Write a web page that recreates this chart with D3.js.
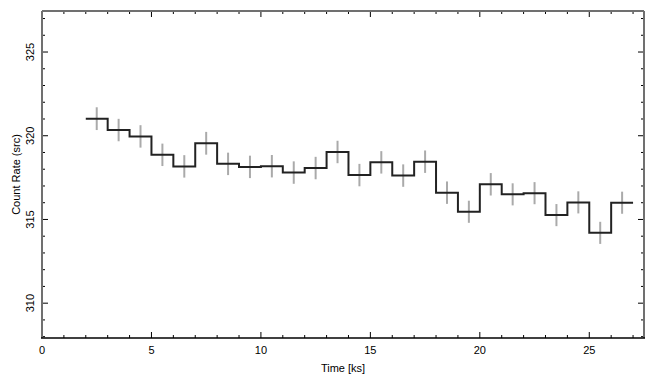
<!DOCTYPE html>
<html><head><meta charset="utf-8">
<script src="https://cdn.jsdelivr.net/npm/d3@7"></script>
<style>body{margin:0;background:#fff}svg{display:block}text{font-family:"Liberation Sans",Arial,sans-serif;}</style>
</head><body>
<svg id="c" width="655" height="385"></svg>
<script>
const binStart = [2,3,4,5,6,7,8,9,10,11,12,13,14,15,16,17,18,19,20,21,22,23,24,25,26];
const binWidth = 1;
const rate = [321.02,320.34,319.96,318.86,318.17,319.55,318.32,318.14,318.18,317.8,318.07,319.03,317.65,318.41,317.62,318.45,316.6,315.46,317.1,316.5,316.57,315.26,316.02,314.2,316.0];
const rateErr = [0.68,0.67,0.67,0.67,0.67,0.68,0.67,0.67,0.67,0.67,0.67,0.67,0.67,0.67,0.67,0.67,0.67,0.66,0.67,0.66,0.66,0.66,0.66,0.66,0.66];
const xTicks = [0,5,10,15,20,25];
const yTicks = [310,315,320,325];
const xLabel = "Time [ks]";
const yLabel = "Count Rate (src)";

const L=42, R=644, T=11, B=338;
const svg = d3.select("#c");
const x = d3.scaleLinear().domain([0,27.5]).range([L,R]);
const y = d3.scaleLinear().domain([307.92,327.45]).range([B,T]);

// minor and major ticks (inward)
const g = svg.append("g");
const xMinor = d3.range(0,28,1);
const yMinor = d3.range(308,328,1);
xMinor.forEach(v=>{
  const major = xTicks.includes(v), len = major?6:3;
  g.append("line").attr("x1",x(v)).attr("x2",x(v)).attr("y1",B).attr("y2",B-len).attr("stroke","#000").attr("stroke-width",1);
  g.append("line").attr("x1",x(v)).attr("x2",x(v)).attr("y1",T).attr("y2",T+len).attr("stroke","#000").attr("stroke-width",1);
});
yMinor.forEach(v=>{
  const major = yTicks.includes(v), len = major?6:3;
  g.append("line").attr("y1",y(v)).attr("y2",y(v)).attr("x1",L).attr("x2",L+len).attr("stroke","#000").attr("stroke-width",1);
  g.append("line").attr("y1",y(v)).attr("y2",y(v)).attr("x1",R).attr("x2",R-len).attr("stroke","#000").attr("stroke-width",1);
});

// frame
svg.append("line").attr("x1",L).attr("x2",L).attr("y1",T).attr("y2",B).attr("stroke","#707070").attr("stroke-width",2);
svg.append("line").attr("x1",R).attr("x2",R).attr("y1",T).attr("y2",B).attr("stroke","#707070").attr("stroke-width",2);
svg.append("line").attr("x1",L).attr("x2",R).attr("y1",T).attr("y2",T).attr("stroke","#707070").attr("stroke-width",2);
svg.append("line").attr("x1",L-1).attr("x2",R+1).attr("y1",B).attr("y2",B).attr("stroke","#000").attr("stroke-width",1.5);

// tick labels
xTicks.forEach(v=>{
  svg.append("text").attr("x",x(v)).attr("y",354).attr("text-anchor","middle").attr("font-size",11).attr("fill","#000").text(v);
});
yTicks.forEach(v=>{
  svg.append("text").attr("transform",`translate(34,${y(v)}) rotate(-90)`).attr("text-anchor","middle").attr("font-size",11).attr("fill","#000").text(v);
});
svg.append("text").attr("x",(L+R)/2).attr("y",372).attr("text-anchor","middle").attr("font-size",11).text(xLabel);
svg.append("text").attr("transform",`translate(20,${(T+B)/2}) rotate(-90)`).attr("text-anchor","middle").attr("font-size",11).text(yLabel);

// error bars
svg.append("g").selectAll("line").data(binStart).join("line")
  .attr("x1",(d)=>x(d+binWidth/2)).attr("x2",(d)=>x(d+binWidth/2))
  .attr("y1",(d,i)=>y(rate[i]-rateErr[i])).attr("y2",(d,i)=>y(rate[i]+rateErr[i]))
  .attr("stroke","#aaaaaa").attr("stroke-width",2);

// step line
const pts = [];
binStart.forEach((s,i)=>{pts.push([s,rate[i]]);pts.push([s+binWidth,rate[i]]);});
const line = d3.line().x(d=>x(d[0])).y(d=>y(d[1]));
svg.append("path").attr("d",line(pts)).attr("fill","none").attr("stroke","#222").attr("stroke-width",2);
</script>
</body></html>
